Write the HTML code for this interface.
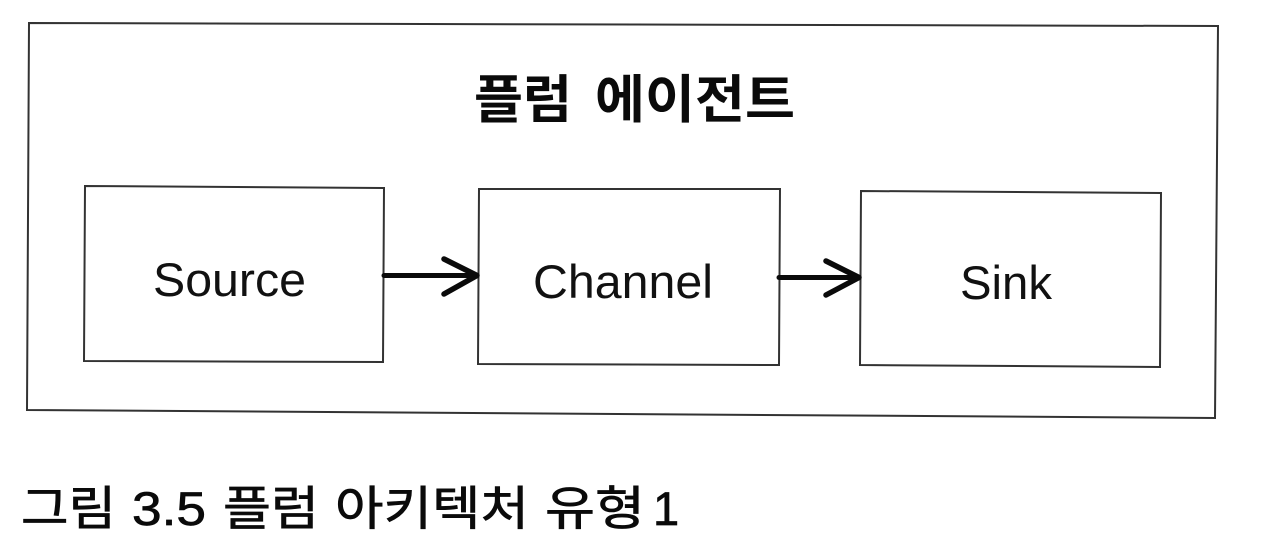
<!DOCTYPE html>
<html lang="ko">
<head>
<meta charset="utf-8">
<style>
html,body{margin:0;padding:0;background:#fff;width:1280px;height:553px;overflow:hidden}
svg{display:block}
.k{font-family:"Liberation Sans","Noto Sans CJK KR",sans-serif;fill:#0a0a0a}
.c{font-size:47px;font-weight:400;stroke:#0a0a0a;stroke-width:0.7px}
.t{font-size:52px;font-weight:700}
.l{font-family:"Liberation Sans",sans-serif;fill:#111;font-size:47px}
</style>
</head>
<body>
<svg width="1280" height="553" viewBox="0 0 1280 553" xmlns="http://www.w3.org/2000/svg">
<rect width="1280" height="553" fill="#fff"/>
<g fill="none" stroke="#333" stroke-width="2">
<polygon points="29,23 1218,26 1215,418 27,410"/>
<polygon points="85,186 384,188 383,362 84,361"/>
<polygon points="479,189 780,189 779,365 478,364"/>
<polygon points="861,191 1161,193 1160,367 860,365"/>
</g>
<g fill="none" stroke="#0a0a0a" stroke-linecap="round" stroke-linejoin="round">
<line x1="384" y1="275.5" x2="474" y2="275.5" stroke-width="5"/>
<polyline points="444,259 477,275.5 444,294" stroke-width="5.5"/>
<line x1="779" y1="277.5" x2="856" y2="277.5" stroke-width="5"/>
<polyline points="826,261 859,277.5 826,295" stroke-width="5.5"/>
</g>
<text class="k t" x="474" y="118" textLength="98" lengthAdjust="spacingAndGlyphs">플럼</text>
<text class="k t" x="595" y="118" textLength="200" lengthAdjust="spacingAndGlyphs">에이전트</text>
<text class="l" x="153" y="296" textLength="153" lengthAdjust="spacingAndGlyphs">Source</text>
<text class="l" x="533" y="298" textLength="180" lengthAdjust="spacingAndGlyphs">Channel</text>
<text class="l" x="960" y="299" textLength="92" lengthAdjust="spacingAndGlyphs">Sink</text>
<text class="k c" x="21" y="525" textLength="95" lengthAdjust="spacingAndGlyphs">그림</text>
<text class="k c" x="132" y="525" textLength="74" lengthAdjust="spacingAndGlyphs">3.5</text>
<text class="k c" x="223" y="525" textLength="96" lengthAdjust="spacingAndGlyphs">플럼</text>
<text class="k c" x="335" y="525" textLength="194" lengthAdjust="spacingAndGlyphs">아키텍처</text>
<text class="k c" x="545" y="525" textLength="100" lengthAdjust="spacingAndGlyphs">유형</text>
<text class="k c" x="653" y="525">1</text>
</svg>
</body>
</html>
